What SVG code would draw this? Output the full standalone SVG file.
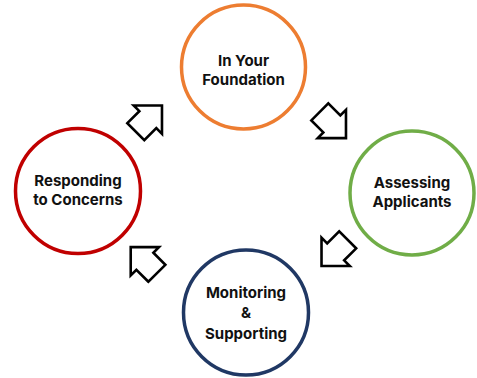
<svg xmlns="http://www.w3.org/2000/svg" width="477" height="378" viewBox="0 0 477 378">
<style>
.ring{fill:#ffffff;stroke-width:3.5}
.lbl{font-family:Inter,"Noto Sans","Liberation Sans",sans-serif;font-weight:700;font-size:15px;fill:#111111;text-anchor:middle}
.arr{fill:#ffffff;stroke:#000000;stroke-width:2.6;stroke-linejoin:miter}
</style>
<defs>
<polygon id="blk" points="-18.5,-12 -1.5,-12 -1.5,-20 18.5,0 -1.5,20 -1.5,12 -18.5,12"/>
</defs>
<rect width="477" height="378" fill="#ffffff"/>
<g id="connectors">
<use href="#blk" class="arr" transform="translate(148.9,118.6) rotate(-45)"/>
<use href="#blk" class="arr" transform="translate(332.9,125) rotate(45)"/>
<use href="#blk" class="arr" transform="translate(334.6,252.9) rotate(135)"/>
<use href="#blk" class="arr" transform="translate(143.8,260.2) rotate(-135)"/>
</g>
<g id="foundation">
<circle class="ring" cx="243.5" cy="67" r="62" stroke="#ED7D31"/>
<text class="lbl" x="243.5" y="66">In Your</text>
<text class="lbl" x="243.5" y="84.5">Foundation</text>
</g>
<g id="assessing">
<circle class="ring" cx="412" cy="193" r="62" stroke="#70AD47"/>
<text class="lbl" x="412" y="188">Assessing</text>
<text class="lbl" x="412" y="207">Applicants</text>
</g>
<g id="monitoring">
<circle class="ring" cx="246" cy="312.5" r="62.5" stroke="#203864"/>
<text class="lbl" x="246" y="298">Monitoring</text>
<text class="lbl" x="246" y="318">&amp;</text>
<text class="lbl" x="246" y="338.5">Supporting</text>
</g>
<g id="responding">
<circle class="ring" cx="78" cy="191" r="62.5" stroke="#C00000"/>
<text class="lbl" x="78" y="186">Responding</text>
<text class="lbl" x="78" y="205">to Concerns</text>
</g>
</svg>
